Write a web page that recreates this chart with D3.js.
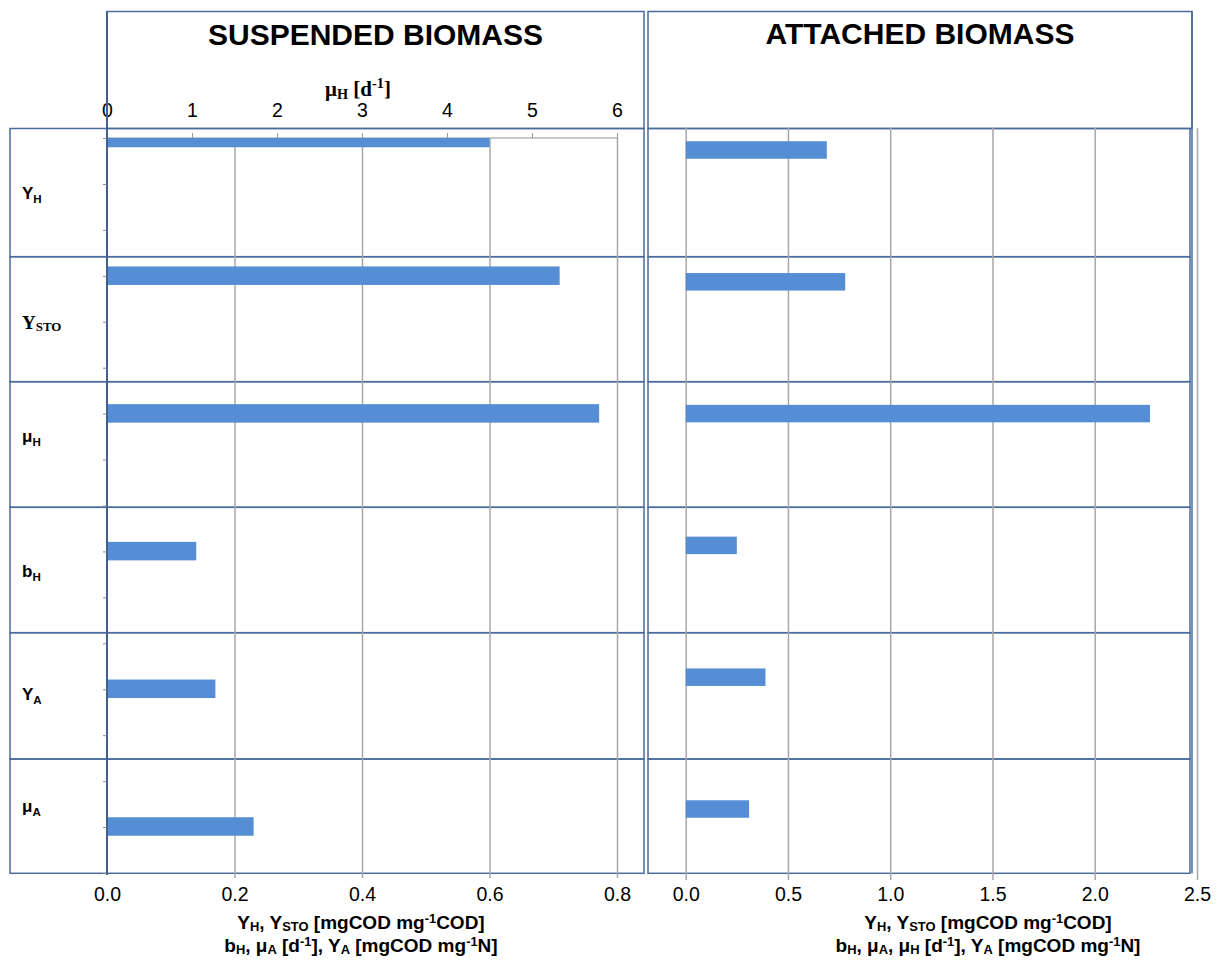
<!DOCTYPE html>
<html>
<head>
<meta charset="utf-8">
<script src="https://cdn.jsdelivr.net/npm/d3@7"></script>
<style>
  body { margin: 0; background: #fff; }
  svg { display: block; }
  text { fill: #000; }
</style>
</head>
<body>
<svg id="chart" width="1217" height="960"></svg>
<script>
// parameters (rows, top to bottom)
const params = ["YH", "YSTO", "muH", "bH", "YA", "muA"];

// suspended biomass: muH is read on the top axis (d-1), others on the bottom axis
const suspended = [0.60, 0.71, 5.79, 0.14, 0.17, 0.23];
const suspendedAxis = ["bottom", "bottom", "top", "bottom", "bottom", "bottom"];

// attached biomass
const attached = [0.69, 0.78, 2.27, 0.25, 0.39, 0.31];

// tick labels
const suspBottomTicks = [0, 0.2, 0.4, 0.6, 0.8];
const suspTopTicks = [0, 1, 2, 3, 4, 5, 6];
const attTicks = [0, 0.5, 1.0, 1.5, 2.0, 2.5];

// label text pieces: [text, "n" | "sub" | "sup"]
const rowLabels = {
  YH: [["Y", "n"], ["H", "sub"]],
  YSTO: [["Y", "n"], ["STO", "sub"]],
  muH: [["μ", "n"], ["H", "sub"]],
  bH: [["b", "n"], ["H", "sub"]],
  YA: [["Y", "n"], ["A", "sub"]],
  muA: [["μ", "n"], ["A", "sub"]]
};
const topAxisTitle = [["μ", "n"], ["H", "sub"], [" [d", "n"], ["-1", "sup"], ["]", "n"]];
const suspTitle = [
  [["Y", "n"], ["H", "sub"], [", Y", "n"], ["STO", "sub"], [" [mgCOD mg", "n"], ["-1", "sup"], ["COD]", "n"]],
  [["b", "n"], ["H", "sub"], [", μ", "n"], ["A", "sub"], [" [d", "n"], ["-1", "sup"], ["], Y", "n"], ["A", "sub"], [" [mgCOD mg", "n"], ["-1", "sup"], ["N]", "n"]]
];
const attTitle = [
  [["Y", "n"], ["H", "sub"], [", Y", "n"], ["STO", "sub"], [" [mgCOD mg", "n"], ["-1", "sup"], ["COD]", "n"]],
  [["b", "n"], ["H", "sub"], [", μ", "n"], ["A", "sub"], [", μ", "n"], ["H", "sub"], ["  [d", "n"], ["-1", "sup"], ["], Y", "n"], ["A", "sub"], [" [mgCOD mg", "n"], ["-1", "sup"], ["N]", "n"]]
];

const svg = d3.select("#chart");
const frame = "#4a6b9c";
const grid = "#a8a8a8";
const barColor = "#558ed5";
const SANS = "'Liberation Sans', Arial, sans-serif";
const SERIF = "'Liberation Serif', 'Times New Roman', serif";

// row borders of the table layout
const rowEdges = [128.5, 256.7, 381.7, 507.3, 632.7, 759, 873.3];

function richText(sel, parts, size, family, subShift = 0.22, supShift = 0.36) {
  sel.attr("font-size", size).attr("font-family", family).attr("font-weight", "bold");
  parts.forEach(([t, kind]) => {
    const ts = sel.append("tspan").text(t)
      .attr("font-family", family).attr("font-weight", "bold");
    if (kind === "sub") ts.attr("font-size", size * 0.68).attr("baseline-shift", -size * subShift);
    else if (kind === "sup") ts.attr("font-size", size * 0.68).attr("baseline-shift", size * supShift);
    else ts.attr("font-size", size);
  });
}

// ---------- frames ----------
const fr = svg.append("g").attr("fill", "none").attr("stroke", frame).attr("stroke-width", 1.5);
fr.append("rect").attr("x", 107).attr("y", 11.5).attr("width", 537).attr("height", 117);
fr.append("rect").attr("x", 648).attr("y", 11.5).attr("width", 544).attr("height", 117);
rowEdges.slice(0, -1).forEach((y0, i) => {
  const y1 = rowEdges[i + 1];
  fr.append("rect").attr("x", 10).attr("y", y0).attr("width", 97).attr("height", y1 - y0);
  fr.append("rect").attr("x", 107).attr("y", y0).attr("width", 537).attr("height", y1 - y0);
  fr.append("rect").attr("x", 648).attr("y", y0).attr("width", 542).attr("height", y1 - y0);
});
fr.append("line").attr("x1", 1192).attr("x2", 1192).attr("y1", 11.5).attr("y2", 873.3);

// titles
svg.append("text").attr("x", 375.5).attr("y", 45).attr("text-anchor", "middle")
  .attr("font-family", SANS).attr("font-size", 30).attr("font-weight", "bold").text("SUSPENDED BIOMASS");
svg.append("text").attr("x", 920).attr("y", 44).attr("text-anchor", "middle")
  .attr("font-family", SANS).attr("font-size", 30).attr("font-weight", "bold").text("ATTACHED BIOMASS");

// row labels
const labelY = { YH: 199, YSTO: 329, muH: 442, bH: 577, YA: 700, muA: 812 };
params.forEach(p => {
  const t = svg.append("text").attr("x", 22).attr("y", labelY[p]);
  if (p === "YSTO") richText(t, rowLabels[p], 19, SERIF, 0.12);
  else richText(t, rowLabels[p], 17, SANS);
});

// ---------- suspended biomass ----------
const xS = d3.scaleLinear().domain([0, 0.8]).range([107, 617]);
const xT = d3.scaleLinear().domain([0, 6]).range([107, 617]);
const yS = d3.scalePoint().domain(params).range([138, 826.5]);
const yTicks = d3.scaleLinear().domain([0, 16]).range([138, 873]);

// gridlines
svg.append("g").attr("transform", "translate(0,873)")
  .call(d3.axisBottom(xS).tickValues(suspBottomTicks.slice(1)).tickSize(-735).tickSizeOuter(0).tickFormat(""))
  .call(g => g.select(".domain").remove())
  .call(g => g.selectAll("line").attr("stroke", grid).attr("stroke-width", 1.5).attr("y1", 5));
svg.append("line").attr("x1", 107).attr("x2", 617).attr("y1", 138).attr("y2", 138)
  .attr("stroke", "#b4b4b4").attr("stroke-width", 1.5);

// top axis
svg.append("g").attr("transform", "translate(0,138)")
  .call(d3.axisTop(xT).tickValues(suspTopTicks).tickSize(5).tickPadding(16).tickFormat(d3.format("d")))
  .call(g => g.select(".domain").remove())
  .call(g => g.selectAll("line").attr("stroke", "#999"))
  .call(g => g.selectAll("text").attr("font-size", 19.5).attr("font-family", SANS));

// bottom labels
svg.append("g").attr("transform", "translate(0,873)")
  .call(d3.axisBottom(xS).tickValues(suspBottomTicks).tickSize(0).tickPadding(14).tickFormat(d3.format(".1f")))
  .call(g => g.select(".domain").remove())
  .call(g => g.selectAll("text").attr("font-size", 19.5).attr("font-family", SANS));

// bars
svg.append("clipPath").attr("id", "clipS").append("rect")
  .attr("x", 107).attr("y", 138).attr("width", 520).attr("height", 735);
svg.append("g").attr("clip-path", "url(#clipS)")
  .selectAll("rect").data(params).join("rect")
  .attr("x", xS(0))
  .attr("y", (d) => yS(d) - 9.25)
  .attr("width", (d, i) => (suspendedAxis[i] === "top" ? xT(suspended[i]) : xS(suspended[i])) - xS(0))
  .attr("height", 18.5)
  .attr("fill", barColor);

// category axis
svg.append("g").attr("transform", "translate(107,0)")
  .call(d3.axisLeft(yTicks).ticks(16).tickSize(4).tickSizeOuter(0).tickFormat(""))
  .call(g => g.select(".domain").attr("stroke", "#3f5f8f").attr("stroke-width", 2).attr("d", "M0,11.5V875"))
  .call(g => g.selectAll("line").attr("stroke", "#888"));

// top axis title
const tt = svg.append("text").attr("x", 358).attr("y", 96).attr("text-anchor", "middle");
richText(tt, topAxisTitle, 21, SERIF, 0.15);

// bottom titles
suspTitle.forEach((line, i) => {
  const t = svg.append("text").attr("x", 361).attr("y", 929 + i * 23).attr("text-anchor", "middle");
  richText(t, line, 19, SANS, 0.12, 0.3);
});

// ---------- attached biomass ----------
const xA = d3.scaleLinear().domain([0, 2.5]).range([685.7, 1197]);
const yA = d3.scalePoint().domain(params).range([150, 809]);

svg.append("g").attr("transform", "translate(0,880)")
  .call(d3.axisBottom(xA).tickValues(attTicks).tickSize(-752).tickSizeOuter(0).tickFormat(""))
  .call(g => g.select(".domain").remove())
  .call(g => g.selectAll("line").attr("stroke", grid).attr("stroke-width", 1.5));

svg.append("g").attr("transform", "translate(0,873)")
  .call(d3.axisBottom(xA).tickValues(attTicks).tickSize(0).tickPadding(14).tickFormat(d3.format(".1f")))
  .call(g => g.select(".domain").remove())
  .call(g => g.selectAll("text").attr("font-size", 19.5).attr("font-family", SANS));

svg.append("g").selectAll("rect").data(params).join("rect")
  .attr("x", xA(0))
  .attr("y", (d) => yA(d) - 8.75)
  .attr("width", (d, i) => xA(attached[i]) - xA(0))
  .attr("height", 17.5)
  .attr("fill", barColor);

attTitle.forEach((line, i) => {
  const t = svg.append("text").attr("x", 988).attr("y", 929 + i * 23).attr("text-anchor", "middle");
  richText(t, line, 19, SANS, 0.12, 0.3);
});
</script>
</body>
</html>
